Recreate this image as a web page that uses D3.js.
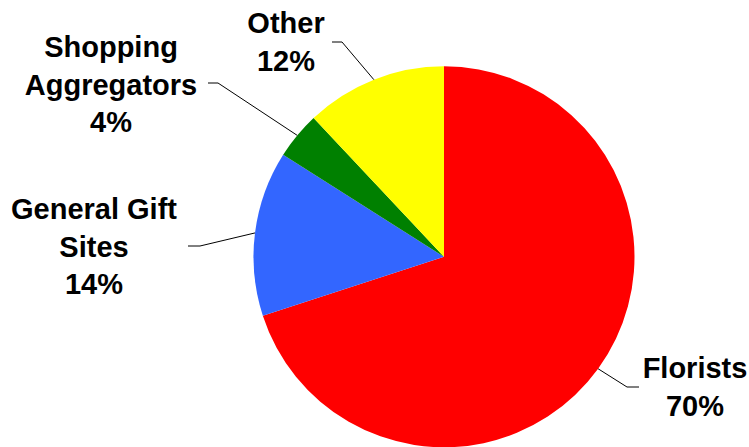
<!DOCTYPE html>
<html>
<head>
<meta charset="utf-8">
<script src="https://cdn.jsdelivr.net/npm/d3@7"></script>
<style>
  html, body { margin: 0; padding: 0; background: #fff; }
  svg { display: block; }
  text { font-family: "Liberation Sans", Arial, sans-serif; font-weight: bold; fill: #000; }
</style>
</head>
<body>
<svg id="chart" width="749" height="447"></svg>
<script>
// ---- data ----
const categories = ["Florists", "General Gift Sites", "Shopping Aggregators", "Other"];
const labelLines = [["Florists"], ["General Gift", "Sites"], ["Shopping", "Aggregators"], ["Other"]];
const values = [70, 14, 4, 12];
const colors = ["#FF0000", "#3366FF", "#008000", "#FFFF00"];

// ---- layout (not data) ----
const W = 749, H = 447;
const cx = 444, cy = 256.8, R = 190.5;
const labelLayout = [
  { x: 695, y: 378, elbow: [627, 387], end: [639, 387] },
  { x: 94,  y: 219, elbow: [200, 246], end: [188, 246] },
  { x: 111, y: 57,  elbow: [218, 83],  end: [208, 83] },
  { x: 286, y: 33,  elbow: [342, 42],  end: [332, 42] }
];
const lineGap = 37.5;

const svg = d3.select("#chart");
const g = svg.append("g").attr("transform", `translate(${cx},${cy})`);

const pie = d3.pie().sort(null).value(d => d)(values);
const arc = d3.arc().innerRadius(0).outerRadius(R);

g.selectAll("path.slice").data(pie).join("path")
  .attr("class", "slice")
  .attr("d", arc)
  .attr("fill", (d, i) => colors[i]);

// leader lines
const total = d3.sum(values);
const pts = pie.map(d => {
  const a = (d.startAngle + d.endAngle) / 2;
  return [cx + R * Math.sin(a), cy - R * Math.cos(a)];
});

svg.selectAll("polyline.leader").data(pie).join("polyline")
  .attr("class", "leader")
  .attr("points", (d, i) => {
    const L = labelLayout[i];
    return [pts[i], L.elbow, L.end].map(p => p.join(",")).join(" ");
  })
  .attr("fill", "none")
  .attr("stroke", "#000")
  .attr("stroke-width", 1);

// labels
const fmt = v => Math.round(v / total * 100) + "%";
pie.forEach((d, i) => {
  const L = labelLayout[i];
  const lines = labelLines[i].concat([fmt(values[i])]);
  const t = svg.append("text")
    .attr("text-anchor", "middle")
    .attr("font-size", 29);
  lines.forEach((s, k) => {
    t.append("tspan").attr("x", L.x).attr("y", L.y + k * lineGap).text(s);
  });
});
</script>
</body>
</html>
